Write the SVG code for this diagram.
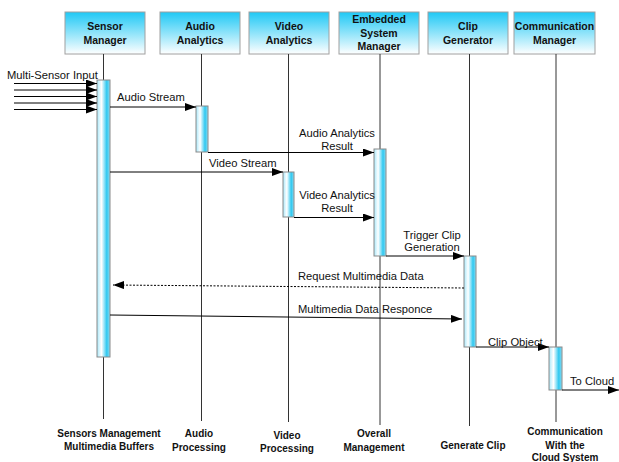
<svg xmlns="http://www.w3.org/2000/svg" width="619" height="462" viewBox="0 0 619 462">
<defs>
<linearGradient id="hdr" x1="0" y1="0" x2="0" y2="1">
<stop offset="0" stop-color="#1fc8f5"/>
<stop offset="1" stop-color="#ffffff"/>
</linearGradient>
<linearGradient id="bar" x1="0" y1="0" x2="1" y2="0">
<stop offset="0" stop-color="#a8e8fa"/>
<stop offset="0.35" stop-color="#ffffff"/>
<stop offset="0.75" stop-color="#2ec8f0"/>
<stop offset="1" stop-color="#8fdcf2"/>
</linearGradient>
<marker id="ah" viewBox="0 0 11 8" refX="11" refY="4" markerWidth="11" markerHeight="8" markerUnits="userSpaceOnUse" orient="auto">
<path d="M0,0 L11,4 L0,8 Z" fill="#000"/>
</marker>
</defs>
<style>
.hbox{fill:url(#hdr);stroke:#a0a0a0;stroke-width:1}
.ht{font-family:"Liberation Sans",Arial,sans-serif;font-size:10.5px;font-weight:bold;fill:#111;text-anchor:middle}
.bt{font-family:"Liberation Sans",Arial,sans-serif;font-size:10px;font-weight:bold;fill:#111;text-anchor:middle}
.life{stroke:#333;stroke-width:1}
.act{fill:url(#bar);stroke:#8a8a8a;stroke-width:1}
.msg{stroke:#000;stroke-width:1;fill:none;marker-end:url(#ah)}
.dash{stroke-dasharray:2,1.5}
.ml{font-family:"Liberation Sans",Arial,sans-serif;font-size:11.2px;fill:#111}
.mc{text-anchor:middle}
</style>
<rect width="619" height="462" fill="#fff"/>

<g id="sensor-manager">
<rect class="hbox" x="65" y="12" width="80" height="42"/>
<text class="ht" x="105" y="30">Sensor</text>
<text class="ht" x="105" y="44">Manager</text>
<line class="life" x1="103.5" y1="54" x2="103.5" y2="419"/>
<rect class="act" x="97" y="80" width="13" height="277"/>
<text class="bt" x="109" y="437">Sensors Management</text>
<text class="bt" x="109" y="450">Multimedia Buffers</text>
</g>

<g id="audio-analytics">
<rect class="hbox" x="160" y="12" width="80" height="42"/>
<text class="ht" x="200" y="30">Audio</text>
<text class="ht" x="200" y="44">Analytics</text>
<line class="life" x1="201.5" y1="54" x2="201.5" y2="421"/>
<rect class="act" x="196" y="106" width="12" height="46"/>
<text class="bt" x="199" y="437">Audio</text>
<text class="bt" x="199" y="451">Processing</text>
</g>

<g id="video-analytics">
<rect class="hbox" x="249" y="12" width="80" height="42"/>
<text class="ht" x="289" y="30">Video</text>
<text class="ht" x="289" y="44">Analytics</text>
<line class="life" x1="288.5" y1="54" x2="288.5" y2="422"/>
<rect class="act" x="283" y="172" width="11" height="45"/>
<text class="bt" x="287" y="439">Video</text>
<text class="bt" x="287" y="452">Processing</text>
</g>

<g id="embedded-system-manager">
<rect class="hbox" x="339" y="12" width="80" height="42"/>
<text class="ht" x="379" y="23">Embedded</text>
<text class="ht" x="379" y="37">System</text>
<text class="ht" x="379" y="50">Manager</text>
<line class="life" x1="380" y1="54" x2="380" y2="425"/>
<rect class="act" x="374" y="149" width="12" height="107"/>
<text class="bt" x="374" y="437">Overall</text>
<text class="bt" x="374" y="451">Management</text>
</g>

<g id="clip-generator">
<rect class="hbox" x="428" y="12" width="80" height="42"/>
<text class="ht" x="468" y="30">Clip</text>
<text class="ht" x="468" y="44">Generator</text>
<line class="life" x1="469.5" y1="54" x2="469.5" y2="426"/>
<rect class="act" x="464" y="256" width="12" height="91"/>
<text class="bt" x="473" y="449">Generate Clip</text>
</g>

<g id="communication-manager">
<rect class="hbox" x="514" y="12" width="81" height="42"/>
<text class="ht" x="554.5" y="30">Communication</text>
<text class="ht" x="554.5" y="44">Manager</text>
<line class="life" x1="556" y1="54" x2="556" y2="422"/>
<rect class="act" x="549" y="347" width="13" height="43"/>
<text class="bt" x="565" y="435">Communication</text>
<text class="bt" x="565" y="449">With the</text>
<text class="bt" x="565" y="461">Cloud System</text>
</g>

<g id="connectors">
<line class="msg" x1="14" y1="83.5" x2="97" y2="83.5"/>
<line class="msg" x1="14" y1="90" x2="97" y2="90"/>
<line class="msg" x1="14" y1="96.5" x2="97" y2="96.5"/>
<line class="msg" x1="14" y1="103" x2="97" y2="103"/>
<line class="msg" x1="14" y1="109.5" x2="97" y2="109.5"/>
<text class="ml" x="7" y="79">Multi-Sensor Input</text>

<line class="msg" x1="110" y1="107" x2="196" y2="107"/>
<text class="ml" x="117" y="101">Audio Stream</text>

<line class="msg" x1="208" y1="152.5" x2="374" y2="152.5"/>
<text class="ml mc" x="337" y="137">Audio Analytics</text>
<text class="ml mc" x="337" y="150">Result</text>

<line class="msg" x1="110" y1="172" x2="283" y2="172"/>
<text class="ml" x="209" y="167">Video Stream</text>

<line class="msg" x1="294" y1="217.5" x2="374" y2="217.5"/>
<text class="ml mc" x="337" y="199">Video Analytics</text>
<text class="ml mc" x="337" y="212">Result</text>

<line class="msg" x1="386" y1="256" x2="464" y2="256"/>
<text class="ml mc" x="432" y="239">Trigger Clip</text>
<text class="ml mc" x="432" y="251">Generation</text>

<line class="msg dash" x1="464" y1="288" x2="113" y2="285"/>
<text class="ml" x="298" y="280">Request Multimedia Data</text>

<line class="msg" x1="110" y1="315" x2="462" y2="319"/>
<text class="ml" x="298" y="313">Multimedia Data Responce</text>

<line class="msg" x1="476" y1="347" x2="549" y2="347"/>
<text class="ml" x="488" y="346">Clip Object</text>

<line class="msg" x1="562" y1="390" x2="619" y2="390"/>
<text class="ml" x="570" y="385">To Cloud</text>
</g>
</svg>
